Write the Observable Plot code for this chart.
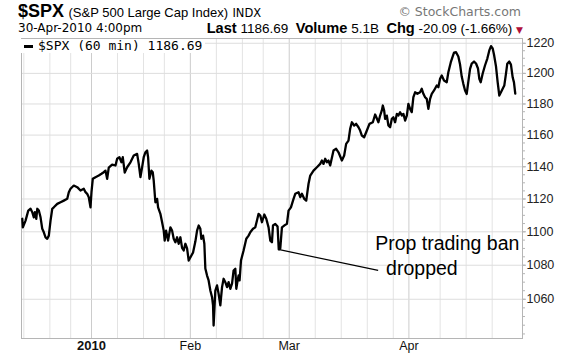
<!DOCTYPE html>
<html><head><meta charset="utf-8">
<script src="https://cdn.jsdelivr.net/npm/d3@7"></script>
<script src="https://cdn.jsdelivr.net/npm/@observablehq/plot@0.6"></script>
<style>
body{margin:0;background:#fff;}
#wrap{position:relative;width:577px;height:357px;font-family:"Liberation Sans",Arial,sans-serif;color:#000;overflow:hidden;background:#fff}
#head{height:36px;position:relative}
.abs{position:absolute;white-space:nowrap}
#chart svg{display:block;overflow:visible}
</style></head><body>
<div id="wrap">
 <div id="head">
  <div class="abs" style="left:18px;top:1px;line-height:20px"><span style="font-weight:bold;font-size:18px">$SPX</span> <span style="font-size:13px">(S&amp;P 500 Large Cap Index)</span> <span style="font-size:11.5px;font-family:'DejaVu Sans'">INDX</span></div>
  <div class="abs" style="right:56px;top:4px;font-family:'DejaVu Sans';font-size:12.5px;color:#777">© StockCharts.com</div>
  <div class="abs" style="left:18px;top:21px;font-family:'DejaVu Sans';font-size:12px;line-height:14px">30-Apr-2010 4:00pm</div>
  <div class="abs" style="right:54px;top:20px;font-size:13.5px;line-height:16px"><b style="font-size:14.6px">Last</b> 1186.69 &nbsp;<b style="font-size:14.6px">Volume</b> 5.1B &nbsp;<b style="font-size:14.6px">Chg</b> -20.09 (-1.66%) <span style="color:#b0103a;font-size:9px;font-family:'DejaVu Sans'">▼</span></div>
 </div>
 <div id="chart"></div>
 <div id="legend" class="abs" style="left:20px;top:39px;background:#fff;padding:0 3px 0 4px;font-family:'DejaVu Sans Mono',monospace;font-size:13px;line-height:14px"><span style="display:inline-block;width:9px;height:3px;background:#000;vertical-align:middle;margin-right:5px"></span>$SPX (60 min) 1186.69</div>
</div>
<script>
// trading days counted from the 4 Jan 2010 session (negative = Dec 2009)
const tradingDay = [
-13.30,-13.19,-12.67,-12.15,-11.71,-11.38,-11.08,-10.88,-10.61,-10.42,
-10.12,-9.79,-9.46,-9.16,-8.83,-8.50,-8.20,-7.87,-7.54,-7.24,
-6.58,-5.95,-5.32,-4.66,-4.36,-4.03,-3.40,-2.74,-2.11,-1.48,
-1.15,-0.83,-0.52,-0.19,0,0.25,0.77,1.40,1.92,2.36,
2.69,3.01,3.32,3.97,4.61,4.93,5.37,5.76,6.01,6.39,
6.85,7.49,8.12,8.77,9.08,9.41,9.73,10.04,10.36,10.69,
10.88,11.13,11.52,11.77,11.96,12.28,12.61,12.80,13.24,13.57,
13.88,14.07,14.34,14.72,15.16,15.49,15.80,16.12,16.45,16.76,
17.08,17.41,17.72,18.04,18.37,18.68,19.00,19.52,19.96,20.29,
20.60,20.92,21.11,21.44,21.69,21.88,22.21,22.51,22.84,23.17,
23.36,23.47,23.80,24.13,24.43,24.76,25.09,25.39,25.72,26.05,
26.35,26.68,27.01,27.31,27.64,27.83,28.08,28.27,28.46,28.73,
29.23,29.75,30.19,30.52,31.04,31.48,31.80,32.11,32.44,32.76,
33.21,33.59,34.03,34.36,34.68,34.88,35.32,35.76,35.99,36.28,
36.60,37.04,37.56,37.87,38.33,38.83,39.16,39.79,40.12,40.44,
40.88,41.27,41.71,42.04,42.67,43.32,43.95,44.28,44.59,44.91,
45.24,45.55,45.87,46.51,47.02,47.47,48.12,48.56,48.94,49.39,
49.71,50.04,50.48,50.86,51.31,51.63,51.96,52.40,52.92,53.42,
54.07,54.51,54.84,55.14,55.47,55.80,55.99,56.24,56.43,56.76,
57.06,57.39,57.72,58.02,58.35,58.68,58.98,59.31,59.64,59.94,
60.27,60.60,60.90,61.23,61.55,61.86,62.19,62.63,63.15,63.47,
63.78,64.11,64.43,64.74,65.07,65.39,65.83,66.35,66.66,66.99,
67.31,67.75,68.27,68.58,69.04,69.42,69.67,70.06,70.50,70.83,
71.15,71.46,71.79,72.11,72.42,72.75,73.07,73.51,73.90,74.28,
74.53,74.80,75.18,75.62,76.07,76.45,76.78,77.10,77.35,77.74,
78.06,78.37,78.69,79.02,79.33,79.65,79.90,80.29,80.61,80.94,
81.19,81.44];
const close = [
1107.9,1102.7,1106.8,1112.9,1114.0,1111.9,1108.8,1111.9,1107.9,1114.0,
1112.9,1108.8,1101.8,1099.7,1096.7,1095.8,1097.7,1106.8,1114.0,1114.9,
1117.0,1118.0,1119.0,1120.1,1124.2,1126.3,1128.3,1127.3,1125.2,1126.3,
1124.2,1123.2,1121.1,1114.9,1124.2,1132.5,1133.5,1134.5,1135.6,1136.6,
1137.6,1132.5,1139.5,1141.4,1140.8,1145.0,1146.0,1142.8,1146.0,1136.4,
1139.7,1142.8,1147.1,1148.1,1141.8,1133.5,1139.7,1146.0,1149.1,1150.2,
1146.0,1132.5,1137.6,1136.6,1131.4,1118.0,1120.1,1114.9,1110.9,1105.8,
1100.7,1094.7,1100.7,1094.7,1102.7,1100.7,1095.8,1093.7,1096.7,1092.8,
1096.7,1090.3,1088.8,1092.8,1090.0,1082.8,1084.6,1087.6,1094.1,1100.7,
1103.8,1101.8,1095.8,1097.7,1092.8,1078.1,1073.9,1071.0,1065.1,1061.2,
1056.4,1044.8,1065.1,1068.1,1063.2,1056.4,1067.1,1072.0,1070.0,1067.1,
1070.0,1066.1,1069.1,1076.9,1077.9,1066.1,1071.0,1073.9,1071.0,1082.8,
1088.8,1095.8,1097.7,1099.7,1101.8,1102.7,1106.8,1110.9,1109.9,1105.8,
1110.5,1107.9,1102.7,1094.7,1093.7,1103.8,1104.8,1103.2,1089.4,1090.0,
1102.7,1103.8,1104.8,1112.9,1114.9,1120.1,1123.2,1124.2,1121.1,1123.2,
1120.1,1119.0,1129.4,1134.5,1137.6,1139.7,1141.8,1143.9,1141.8,1145.0,
1142.8,1143.9,1140.8,1150.2,1151.3,1149.1,1143.9,1147.1,1154.4,1156.5,
1164.0,1168.2,1166.1,1167.2,1165.0,1162.9,1159.7,1158.6,1162.9,1167.2,
1168.2,1173.2,1170.6,1168.2,1172.5,1175.8,1179.0,1175.8,1170.4,1172.5,
1166.1,1165.0,1170.4,1171.4,1168.2,1173.6,1172.5,1174.7,1172.5,1173.6,
1169.3,1172.5,1180.1,1176.8,1174.7,1184.4,1187.6,1186.6,1187.6,1189.9,
1186.6,1184.4,1183.3,1176.8,1183.3,1186.6,1188.8,1192.0,1190.9,1196.4,
1198.6,1195.3,1194.2,1200.7,1207.2,1211.2,1213.8,1214.0,1211.2,1205.8,
1197.9,1193.1,1188.8,1186.5,1194.6,1203.0,1206.5,1207.8,1206.5,1203.2,
1196.4,1194.2,1199.9,1205.2,1209.8,1215.2,1218.1,1216.5,1212.5,1204.5,
1194.1,1185.5,1187.6,1189.9,1192.0,1199.7,1206.3,1207.8,1205.8,1197.4,
1194.1,1186.7];

// week starts (first session of each week) and month starts, as trading-day offsets
const weekStarts = [-13,-8,-4,5,10,14,24,29,33,43,48,53,58,67,72,77];
const monthStarts = [0,19,38,61];
const monthLabels = ["2010","Feb","Mar","Apr"];
const priceTicks = [1060,1080,1100,1120,1140,1160,1180,1200,1220];
const minorTicks = d3.range(1040,1225,5);

// annotation
const noteFrom = {t: 35.89, v: 1089.4};
const noteTo = {t: 55.09, v: 1076.9};
const noteLines = ["Prop trading ban", "dropped"];
const notePos = [{t: 54.51, v: 1093.0}, {t: 56.62, v: 1078.1}];

const data = tradingDay.map((t, i) => ({t, v: close[i]}));
const months = monthStarts.map((t, i) => ({t, label: monthLabels[i]}));
const notes = noteLines.map((s, i) => ({...notePos[i], s}));

const chart = Plot.plot({
  width: 577, height: 321,
  marginLeft: 21, marginRight: 55, marginTop: 2, marginBottom: 19,
  style: {fontFamily: "'Liberation Sans', Arial, sans-serif", background: "#fff", overflow: "visible"},
  x: {domain: [-13.45, 82.83], axis: null},
  y: {type: "log", domain: [1037.4, 1223.2], axis: null},
  marks: [
    Plot.ruleX(weekStarts, {stroke: "#e3e3e3", strokeWidth: 1}),
    Plot.ruleX(monthStarts, {stroke: "#cccccc", strokeWidth: 1}),
    Plot.ruleY(priceTicks, {stroke: "#dddddd", strokeWidth: 1}),
    Plot.frame({stroke: "#b5b5b5"}),
    Plot.axisY(minorTicks, {anchor: "right", tickSize: 2, tickFormat: () => "", stroke: "#b5b5b5"}),
    Plot.axisY(priceTicks, {anchor: "right", tickSize: 3, tickPadding: 1, fontSize: 12.5, fill: "#222", stroke: "#b5b5b5", tickFormat: d => String(d)}),
    Plot.text(months.filter(d => d.label === "2010"), {x: "t", text: "label", frameAnchor: "bottom", dy: 11, fontSize: 13, fontWeight: "bold", fill: "#111"}),
    Plot.text(months.filter(d => d.label !== "2010"), {x: "t", text: "label", frameAnchor: "bottom", dy: 11, fontSize: 12.5, fill: "#111"}),
    Plot.line(data, {x: "t", y: "v", stroke: "#000", strokeWidth: 2.3, strokeLinejoin: "round"}),
    Plot.link([{x1: noteFrom.t, y1: noteFrom.v, x2: noteTo.t, y2: noteTo.v}], {x1: "x1", y1: "y1", x2: "x2", y2: "y2", stroke: "#000", strokeWidth: 1.2}),
    Plot.text(notes, {x: "t", y: "v", text: "s", textAnchor: "start", fontSize: 19.5, fill: "#000"})
  ]
});
document.getElementById("chart").appendChild(chart);
</script>
</body></html>
